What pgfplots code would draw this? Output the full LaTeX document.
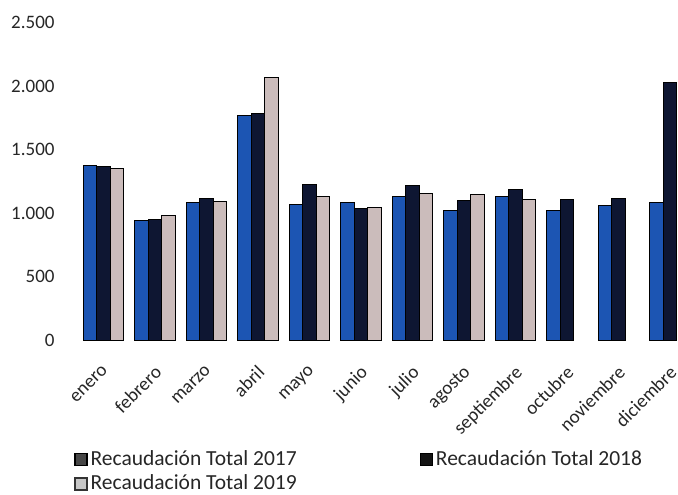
\documentclass[border=0pt]{standalone}
\usepackage{pgfplots}
\pgfplotsset{compat=1.18}
\usepackage{fontspec}
\setmainfont{Carlito}
\definecolor{c17}{HTML}{1C55B3}
\definecolor{c18}{HTML}{0E1632}
\definecolor{c19}{HTML}{CBBCBB}
\definecolor{txt}{HTML}{262626}
\begin{document}
\begin{tikzpicture}
\begin{axis}[
  at={(0,0)}, anchor=south west,
  scale only axis,
  width=300.2pt, height=158.7pt,
  ybar, bar width=6.75pt,
  xmin=-0.5, xmax=11.155,
  ymin=0, ymax=2500,
  enlarge x limits=false,
  axis line style={draw=none},
  major tick length=0pt,
  ytick={0,500,1000,1500,2000,2500},
  xtick={0,...,11},
  xticklabels={enero,febrero,marzo,abril,mayo,junio,julio,agosto,septiembre,octubre,noviembre,diciembre},
  /pgf/number format/assume math mode=true,
  /pgf/number format/1000 sep={.},
  yticklabel style={font=\fontsize{9.5}{11}\selectfont, text=txt, xshift=-8pt},
  xticklabel style={font=\fontsize{9.5}{11}\selectfont, text=txt, xshift=-0.8pt, yshift=-10.5pt, rotate=45, anchor=north east, inner sep=1pt},
  legend image code/.code={\draw[#1] (-2pt,-3pt) rectangle (4pt,3pt);},
  legend columns=2,
  legend cell align=left,
  legend style={draw=none, fill=none, inner sep=0pt, at={(-0.006,-0.337)}, anchor=north west,
    font=\fontsize{10.75}{12}\selectfont, text=txt,
    nodes={inner sep=1.5pt},
    /tikz/every even column/.append style={column sep=60pt},
    row sep=0.3pt},
  every axis plot/.append style={draw=black, line width=0.5pt},
]
\addplot[fill=c17, bar shift=-6.75pt, forget plot] coordinates {(0,1373) (1,946) (2,1082) (3,1768) (4,1066) (5,1085) (6,1135) (7,1019) (8,1132) (9,1024) (10,1061) (11,1085)};
\addplot[fill=c18, bar shift=0pt, forget plot] coordinates {(0,1366) (1,953) (2,1116) (3,1783) (4,1229) (5,1035) (6,1219) (7,1103) (8,1187) (9,1111) (10,1119) (11,2028)};
\addplot[fill=c19, bar shift=6.75pt, forget plot] coordinates {(0,1350) (1,982) (2,1093) (3,2070) (4,1129) (5,1046) (6,1156) (7,1150) (8,1111)};
\addlegendimage{fill=black!72, draw=black, line width=0.6pt}
\addlegendentry{Recaudación Total 2017}
\addlegendimage{fill=black!92, draw=black, line width=0.6pt}
\addlegendentry{Recaudación Total 2018}
\addlegendimage{fill=black!22, draw=black!80, line width=0.6pt}
\addlegendentry{Recaudación Total 2019}
\end{axis}
\pgfresetboundingbox
\path[use as bounding box] (-38.8pt,-77pt) rectangle (300.2pt,170.05pt);
\end{tikzpicture}
\end{document}
